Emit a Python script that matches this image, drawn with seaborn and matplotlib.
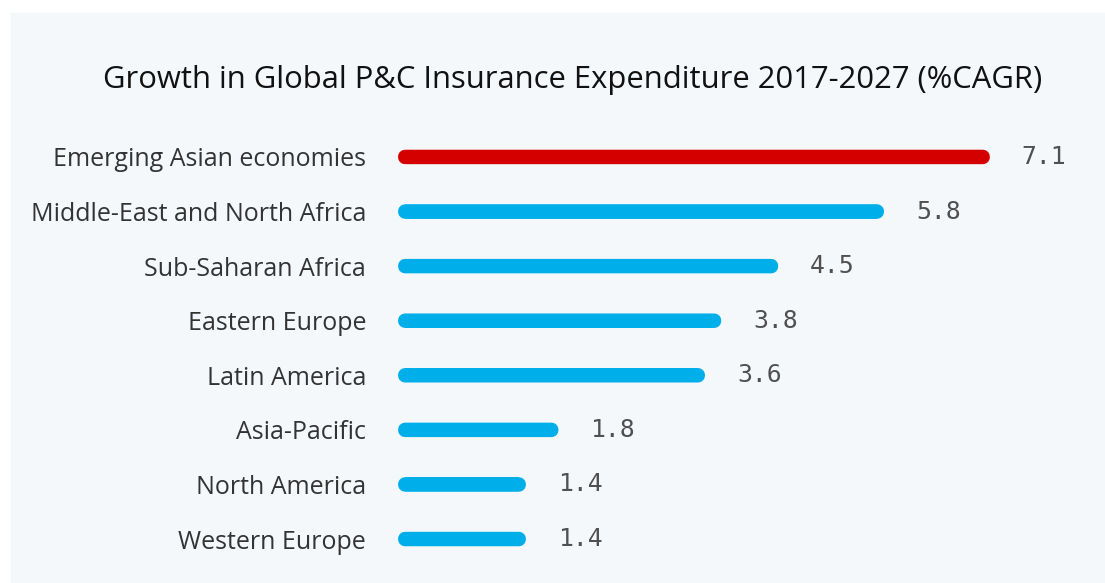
import matplotlib
matplotlib.use("Agg")
import matplotlib.pyplot as plt
import seaborn as sns
import pandas as pd

# data
regions = [
    "Emerging Asian economies",
    "Middle-East and North Africa",
    "Sub-Saharan Africa",
    "Eastern Europe",
    "Latin America",
    "Asia-Pacific",
    "North America",
    "Western Europe",
]
cagr = [7.1, 5.8, 4.5, 3.8, 3.6, 1.8, 1.4, 1.4]
bar_colors = ["#d40000"] + ["#00aeea"] * 7

title = "Growth in Global P&C Insurance Expenditure 2017-2027 (%CAGR)"

df = pd.DataFrame({"region": regions, "cagr": cagr})

sns.set_style("white")
plt.rcParams["font.family"] = ["Open Sans", "DejaVu Sans"]

fig = plt.figure(figsize=(11.05, 5.83), dpi=100, facecolor="white")
# light panel behind the chart
fig.add_artist(plt.Rectangle((11 / 1105, 0), 1, (583 - 13) / 583,
                             transform=fig.transFigure, color="#f4f8fb", zorder=0))

ax = fig.add_axes([405 / 1105, 0.0286, 1 - 405 / 1105, 0.749])
ax.set_facecolor("none")

sns.barplot(data=df, x="cagr", y="region", hue="region", palette=bar_colors,
            orient="h", width=0.01, legend=False, ax=ax)

# thick round-joined outline turns each thin bar into a rounded stroke
for patch, c in zip(ax.patches, bar_colors):
    patch.set_edgecolor(c)
    patch.set_linewidth(10)
    patch.set_joinstyle("round")
    patch.set_snap(False)
    patch.set_clip_on(False)

for i, v in enumerate(cagr):
    ax.annotate(f"{v}", xy=(v, i), xytext=(28, 0), textcoords="offset points",
                va="center", ha="left", fontsize=17.8, color="#505050",
                family="DejaVu Sans Mono")

ax.set_xlim(0, 8.6)
ax.set_ylim(7.5, -0.5)
ax.set_xlabel("")
ax.set_ylabel("")
ax.set_xticks([])
ax.tick_params(axis="y", length=0, pad=28, labelsize=18, labelcolor="#333333")
sns.despine(ax=ax, left=True, bottom=True)

fig.text(573 / 1105, 1 - 80 / 583, title, ha="center", va="center",
         fontsize=22.3, color="#111111")

fig.savefig("out.png", dpi=100, facecolor=fig.get_facecolor())
